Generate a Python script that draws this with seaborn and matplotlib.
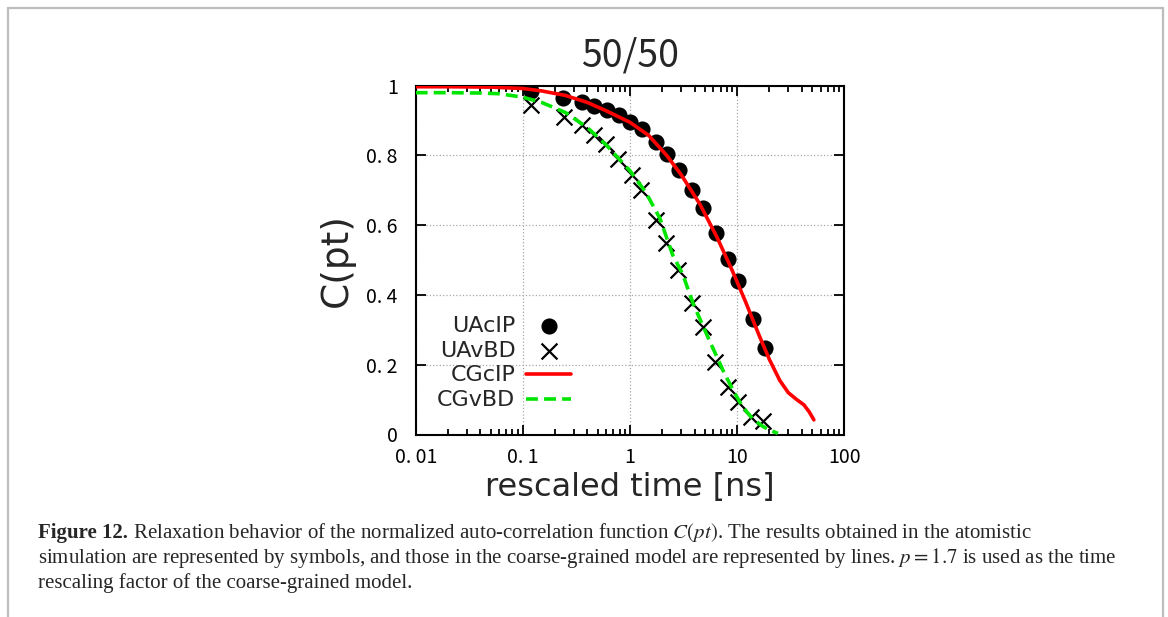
import numpy as np
import matplotlib
matplotlib.use("Agg")
import matplotlib.pyplot as plt
import seaborn as sns
from matplotlib.lines import Line2D
from matplotlib.ticker import LogLocator, NullFormatter

# atomistic simulation (symbols)
uacip_t = [0.119, 0.237, 0.356, 0.46, 0.61, 0.79, 1.0, 1.29, 1.75, 2.21, 2.86, 3.78, 4.79, 6.33, 8.19, 10.2, 14.0, 18.1]
uacip_c = [0.986, 0.966, 0.954, 0.943, 0.931, 0.917, 0.897, 0.877, 0.84, 0.803, 0.757, 0.70, 0.649, 0.577, 0.503, 0.44, 0.331, 0.249]

uavbd_t = [0.119, 0.243, 0.353, 0.463, 0.596, 0.776, 1.035, 1.28, 1.75, 2.19, 2.78, 3.76, 4.82, 6.2, 8.24, 10.2, 13.6, 17.5]
uavbd_c = [0.945, 0.911, 0.886, 0.859, 0.832, 0.79, 0.743, 0.70, 0.616, 0.549, 0.473, 0.378, 0.307, 0.207, 0.135, 0.092, 0.049, 0.04]

# coarse-grained model (lines)
cgcip_t = [0.01, 0.02, 0.05, 0.1, 0.15, 0.25, 0.4, 0.6, 1.0, 1.5, 2.2, 3.0, 4.5, 6.5, 9.0, 12, 16, 20, 25, 30, 36, 42, 47, 52]
cgcip_c = [0.997, 0.997, 0.996, 0.992, 0.985, 0.972, 0.952, 0.928, 0.895, 0.857, 0.80, 0.745, 0.66, 0.565, 0.47, 0.38, 0.285, 0.215, 0.155, 0.12, 0.10, 0.085, 0.065, 0.042]

cgvbd_t = [0.01, 0.02, 0.04, 0.06, 0.1, 0.15, 0.25, 0.4, 0.6, 1.0, 1.4, 1.9, 2.5, 3.1, 3.9, 5.5, 7.4, 9.2, 11.3, 14, 17, 20, 24]
cgvbd_c = [0.98, 0.98, 0.979, 0.977, 0.967, 0.952, 0.923, 0.88, 0.83, 0.756, 0.695, 0.62, 0.515, 0.46, 0.374, 0.27, 0.183, 0.126, 0.078, 0.045, 0.025, 0.013, 0.003]

xtick_vals = [0.01, 0.1, 1, 10, 100]
xtick_labels = ["0. 01", "0. 1", "1", "10", "100"]
ytick_vals = [0, 0.2, 0.4, 0.6, 0.8, 1]
ytick_labels = ["0", "0. 2", "0. 4", "0. 6", "0. 8", "1"]

legend_order = ["UAcIP", "UAvBD", "CGcIP", "CGvBD"]

caption_bold = "Figure 12."
caption_lines = [
    " Relaxation behavior of the normalized auto-correlation function $C(pt)$. The results obtained in the atomistic",
    "simulation are represented by symbols, and those in the coarse-grained model are represented by lines. $p = 1.7$ is used as the time",
    "rescaling factor of the coarse-grained model.",
]

sns.set_style("ticks")
plt.rcParams["font.family"] = ["DejaVu Sans"]
plt.rcParams["mathtext.fontset"] = "stix"
tick_font = ["Noto Sans CJK JP", "DejaVu Sans"]

W, H = 1168, 617
fig = plt.figure(figsize=(W / 100, H / 100), dpi=100)
ax = fig.add_axes([415.7 / W, 1 - 434.5 / H, 428.6 / W, 348.8 / H])

sns.scatterplot(x=uacip_t, y=uacip_c, ax=ax, color="black", marker="o", s=135,
                edgecolor="black", linewidth=0, label="UAcIP", zorder=2)
sns.scatterplot(x=uavbd_t, y=uavbd_c, ax=ax, color="black", marker="x", s=130,
                linewidth=1.6, label="UAvBD", zorder=2)
sns.lineplot(x=cgcip_t, y=cgcip_c, ax=ax, color="#ff0000", lw=2.6,
             sort=False, estimator=None, label="CGcIP", zorder=3)
sns.lineplot(x=cgvbd_t, y=cgvbd_c, ax=ax, color="#00e600", lw=2.6,
             linestyle=(0, (3.3, 1.7)), sort=False, estimator=None, label="CGvBD", zorder=3)

ax.set_xscale("log")
ax.set_xlim(0.01, 100)
ax.set_ylim(0, 1)
ax.set_xticks(xtick_vals)
ax.set_xticklabels(xtick_labels, family=tick_font, fontsize=14)
ax.xaxis.set_minor_locator(LogLocator(base=10, subs=np.arange(2, 10)))
ax.xaxis.set_minor_formatter(NullFormatter())
ax.set_yticks(ytick_vals)
ax.set_yticklabels(ytick_labels, family=tick_font, fontsize=14)
ax.tick_params(which="both", direction="in", top=True, right=True, width=1.3, colors="black")
ax.tick_params(which="major", length=7, pad=9)
ax.tick_params(axis="y", which="major", pad=13)
ax.tick_params(which="minor", length=4)
ax.grid(True, which="major", color="#a8a8a8", linestyle=":", linewidth=0.9)
ax.set_axisbelow(True)
for sp in ax.spines.values():
    sp.set_linewidth(1.5)
    sp.set_color("black")

ax.set_title("50/50", family=tick_font, fontsize=27, pad=14)
ax.set_xlabel("rescaled time [ns]", fontsize=23, labelpad=3)
ax.set_ylabel("C(pt)", fontsize=27, labelpad=8)

handles, labels = ax.get_legend_handles_labels()
hmap = dict(zip(labels, handles))
ax.legend([hmap[k] for k in legend_order], legend_order, loc="center left",
          bbox_to_anchor=(0.05, 0.205), frameon=False, markerfirst=False,
          fontsize=16, handlelength=2.0, handletextpad=0.5, labelspacing=0.22,
          borderaxespad=0, borderpad=0)

# figure frame
frame_kw = dict(transform=fig.transFigure, color="#bdbdbd", lw=1.6)
fig.add_artist(Line2D([7.5 / W, 7.5 / W], [0, 1 - 7.5 / H], **frame_kw))
fig.add_artist(Line2D([7.5 / W, 1163 / W], [1 - 7.5 / H, 1 - 7.5 / H], **frame_kw))
fig.add_artist(Line2D([1163 / W, 1163 / W], [0, 1 - 7.5 / H], **frame_kw))

# caption
cap_kw = dict(family="Liberation Serif", fontsize=15, va="baseline", ha="left")
bold = fig.text(38 / W, 1 - 538 / H, caption_bold, fontweight="bold", **cap_kw)
renderer = fig.canvas.get_renderer()
bb = bold.get_window_extent(renderer=renderer)
fig.text(bb.x1 / W, 1 - 538 / H, caption_lines[0], **cap_kw)
fig.text(38 / W, 1 - 563 / H, caption_lines[1], **cap_kw)
fig.text(38 / W, 1 - 588 / H, caption_lines[2], **cap_kw)

fig.savefig("out.png", dpi=100)
